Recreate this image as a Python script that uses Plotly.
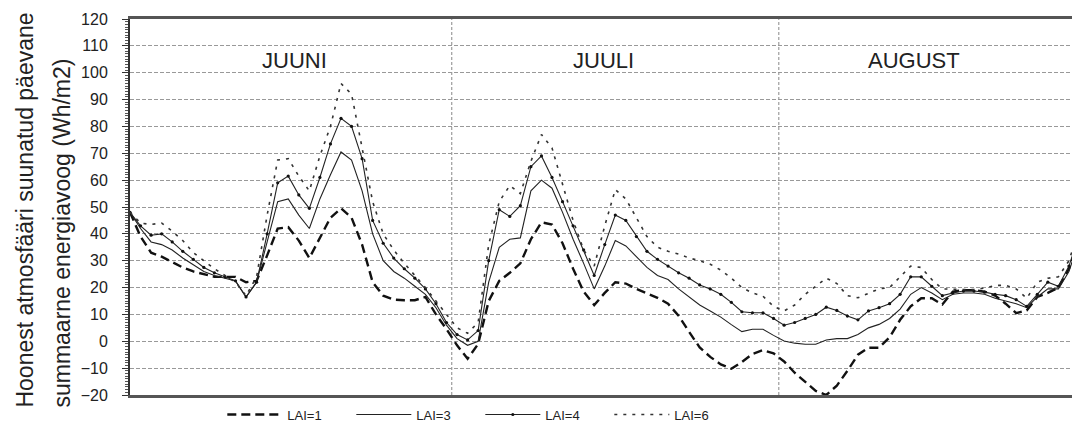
import plotly.graph_objects as go

# Daily values over the summer, index 0 = first plotted day
lai1 = [48, 39, 33, 31.5, 29.5, 27.5, 26, 25, 24, 24,
        24, 22, 22.5, 32, 42, 42.5, 37.5, 31, 38.5, 46,
        49.5, 46, 36, 22, 17, 15.5, 15.3, 15.3, 16.5, 10,
        4.5, -1.5, -6.5, -1, 15, 22.5, 25.5, 29, 38, 44.3,
        43.5, 36.5, 27, 18.5, 13.5, 18, 22, 21.5, 19.5, 17.8,
        16.2, 14, 9.5, 3.5, -2.3, -5.8, -8.6, -10.2, -7.7, -4.7,
        -3.3, -4.5, -7.5, -11.7, -15.2, -18.5, -20, -16.5, -11, -5,
        -2.4, -2.4, 1.5, 8, 13, 16, 16, 13.7, 18.5, 19,
        19, 18.5, 17, 14, 10.5, 11.5, 16.5, 18, 20, 27,
        38, 41]
lai3 = [48, 42, 37, 36, 34, 31, 28.5, 26, 24.5, 23.5,
        22.5, 16.5, 22, 37, 52, 53, 47, 42, 53, 62,
        70.5, 67.5, 56, 40, 30, 26, 23.5, 20.5, 17.5, 12.5,
        6, 1, -1.5, 0, 22, 35, 38, 38.5, 56, 60,
        57, 48, 38, 29, 19.5, 28, 37.5, 35.5, 31.5, 27.5,
        24.5, 23, 19.5, 16.5, 13.5, 11.3, 9, 6.2, 3.6, 4.5,
        4.5, 2.2, 0.1, -0.7, -1.1, -1.1, 0.5, 1, 1, 2.5,
        5, 6.3, 8.5, 12, 17.5, 20, 18, 15.5, 17.5, 18,
        18, 17.5, 16, 15, 14, 12.5, 16.5, 19.5, 19.5, 26,
        38, 41]
lai4 = [48, 43, 39.5, 40, 37, 33.5, 30.5, 27.5, 25.5, 24,
        22.5, 16.5, 22, 40, 59, 61.5, 54.5, 49.5, 61, 73.5,
        83, 80, 68, 45, 36.5, 31, 27, 23.5, 19.5, 14,
        7, 2.5, 0.5, 4, 30, 49, 46.5, 50.5, 65, 69,
        61, 52, 43, 34, 24.5, 36, 47, 45, 39, 33.5,
        30.5, 28, 25.5, 23.5, 21, 19.5, 17.5, 14.5, 11, 10.6,
        10.6, 8.5, 6, 7, 8.5, 10, 12.7, 11.5, 9.4, 8,
        11.3, 12.5, 14, 17.5, 24, 24, 20.5, 17, 18, 18.7,
        18.7, 18.3, 17.5, 17, 15.5, 13, 17.5, 22, 20.5, 28,
        40, 43]
lai6 = [48, 44, 43.5, 44, 41, 37.5, 33, 30, 27, 24.5,
        22, 17, 24, 47, 67.5, 68, 61.5, 56, 69, 80,
        96, 92, 72, 52, 40, 34, 29, 24.5, 20, 15,
        10, 5, 3, 7, 36, 52, 58, 55, 67, 77,
        72, 58, 45, 34, 28, 43, 56.5, 53, 46, 39,
        35, 33.5, 32.5, 31, 30, 28.7, 26.5, 23.5, 20, 18,
        16.8, 13, 11.3, 13.5, 17.5, 20.5, 23.5, 21.5, 17, 16.2,
        18, 19.5, 20, 24, 28, 27.5, 23, 19.5, 19.3, 19.3,
        19.3, 19.8, 20.8, 20.8, 19.5, 16, 22, 23.5, 24, 30,
        42, 45]

months = ["JUUNI", "JUULI", "AUGUST"]
series_names = ["LAI=1", "LAI=3", "LAI=4", "LAI=6"]

days = list(range(len(lai1)))

FONT = "Liberation Sans, Arial, sans-serif"

fig = go.Figure()
fig.add_trace(go.Scatter(x=days, y=lai1, name=series_names[0], mode="lines",
                         line=dict(color="#111111", width=2.4, dash="9px,5px")))
fig.add_trace(go.Scatter(x=days, y=lai3, name=series_names[1], mode="lines",
                         line=dict(color="#222222", width=1.1)))
fig.add_trace(go.Scatter(x=days, y=lai4, name=series_names[2], mode="lines+markers",
                         line=dict(color="#222222", width=1.1),
                         marker=dict(color="#111111", size=3.2)))
fig.add_trace(go.Scatter(x=days, y=lai6, name=series_names[3], mode="lines",
                         line=dict(color="#333333", width=1.6, dash="3px,6px")))

# vertical month separators
for xsep in [30.5, 61.5]:
    fig.add_shape(type="line", xref="x", yref="paper", x0=xsep, x1=xsep,
                  y0=0, y1=1, line=dict(color="#888888", width=1, dash="3px,2px"), layer="below")

for name, xpos in zip(months, [15.6, 44.9, 74.3]):
    fig.add_annotation(x=xpos, y=104.5, xref="x", yref="y", text=name, showarrow=False,
                       font=dict(family=FONT, size=22, color="#222222"))

# two-line rotated y-axis title
for line, shift in [("Hoonest atmosfääri suunatud päevane", -105),
                    ("summaarne energiavoog (Wh/m2)", -68)]:
    fig.add_annotation(x=0, y=-0.04, xref="paper", yref="paper", text=line, showarrow=False,
                       textangle=-90, xanchor="center", yanchor="bottom", xshift=shift,
                       font=dict(family=FONT, size=23, color="#222222"))

fig.update_layout(
    width=1072, height=423,
    margin=dict(l=130, r=0, t=19, b=28, autoexpand=False),
    paper_bgcolor="white", plot_bgcolor="white",
    font=dict(family=FONT, color="#222222"),
    showlegend=True,
    legend=dict(orientation="h", x=0.098, y=-0.052, xanchor="left", yanchor="middle",
                font=dict(size=13, family=FONT), itemwidth=55,
                entrywidth=59, entrywidthmode="pixels", bgcolor="rgba(0,0,0,0)",
                tracegroupgap=0),
    xaxis=dict(range=[0, 89.29], showgrid=False, zeroline=False, showticklabels=False,
               ticks="", showline=True, mirror=True, linecolor="#555555", linewidth=3),
    yaxis=dict(range=[-20, 120], dtick=10, tick0=0, showgrid=True, gridcolor="#999999",
               griddash="4px,2px", gridwidth=1, zeroline=False, showline=True,
               linecolor="#333333", linewidth=2, ticks="outside", ticklen=6, tickcolor="#333333",
               tickfont=dict(size=16, family=FONT, color="#222222"), ticklabelstandoff=11,
               minor=dict(dtick=1, ticks="outside", ticklen=3, tickcolor="#555555", showgrid=False)),
)

fig.write_html("out.html")
